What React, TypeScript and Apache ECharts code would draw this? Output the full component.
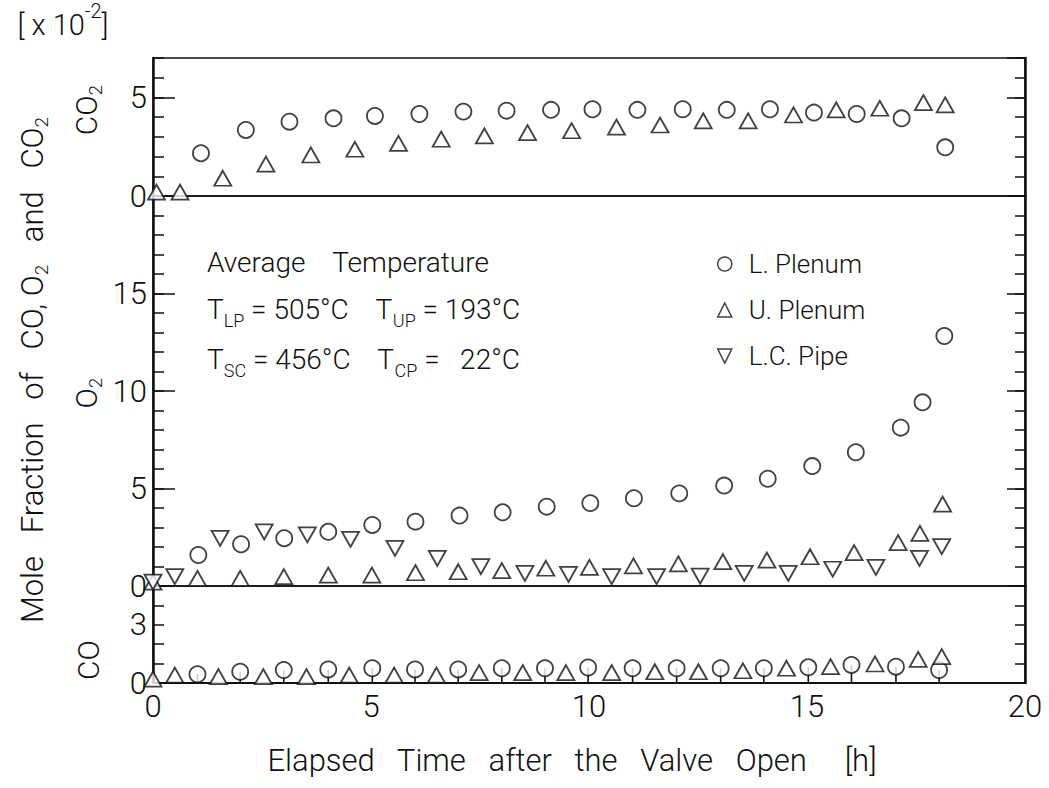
import React, { useEffect, useRef } from "react";
import * as echarts from "echarts";

// ---------- data ----------
const xTicks = [0, 5, 10, 15, 20];

// CO2 panel  [x10^-2]
const co2LpX = [1.1, 2.13, 3.13, 4.14, 5.09, 6.11, 7.12, 8.11, 9.13, 10.08, 11.11, 12.15, 13.16, 14.15, 15.16, 16.14, 17.17, 18.17];
const co2LpY = [2.17, 3.35, 3.77, 3.94, 4.06, 4.16, 4.28, 4.33, 4.37, 4.4, 4.37, 4.4, 4.37, 4.4, 4.23, 4.16, 3.94, 2.47];
const co2UpX = [0.08, 0.62, 1.6, 2.59, 3.62, 4.63, 5.63, 6.61, 7.6, 8.59, 9.6, 10.63, 11.63, 12.62, 13.65, 14.69, 15.67, 16.67, 17.67, 18.17];
const co2UpY = [0.2, 0.2, 0.9, 1.62, 2.08, 2.37, 2.67, 2.88, 3.05, 3.21, 3.31, 3.49, 3.6, 3.81, 3.81, 4.11, 4.37, 4.45, 4.74, 4.62];

// O2 panel
const o2LpX = [1.04, 2.02, 3.01, 4.02, 5.03, 6.02, 7.03, 8.02, 9.03, 10.03, 11.03, 12.07, 13.1, 14.1, 15.12, 16.12, 17.15, 17.65, 18.15];
const o2LpY = [1.59, 2.14, 2.45, 2.78, 3.13, 3.3, 3.61, 3.78, 4.07, 4.25, 4.5, 4.75, 5.15, 5.5, 6.15, 6.86, 8.12, 9.42, 12.82];
const o2UpX = [0, 1.02, 2.0, 3.0, 4.02, 5.02, 6.02, 7.0, 8.0, 9.01, 10.01, 11.02, 12.05, 13.07, 14.08, 15.07, 16.08, 17.09, 17.59, 18.11];
const o2UpY = [0.2, 0.39, 0.39, 0.48, 0.56, 0.56, 0.68, 0.73, 0.79, 0.91, 0.96, 1.03, 1.13, 1.25, 1.33, 1.5, 1.71, 2.22, 2.7, 4.2];
const o2LcX = [0, 0.5, 1.54, 2.55, 3.54, 4.53, 5.55, 6.52, 7.52, 8.53, 9.53, 10.52, 11.55, 12.55, 13.56, 14.57, 15.59, 16.58, 17.58, 18.09];
const o2LcY = [0.2, 0.48, 2.44, 2.78, 2.62, 2.39, 1.93, 1.42, 0.99, 0.65, 0.6, 0.48, 0.48, 0.51, 0.65, 0.65, 0.86, 0.96, 1.42, 2.02];

// CO panel
const coLpX = [1.02, 2.0, 3.0, 4.02, 5.03, 6.01, 7.0, 8.0, 8.99, 9.98, 11.0, 12.01, 13.02, 14.01, 15.03, 16.02, 17.04, 18.03];
const coLpY = [0.45, 0.58, 0.67, 0.7, 0.76, 0.7, 0.7, 0.76, 0.76, 0.8, 0.76, 0.76, 0.76, 0.76, 0.81, 0.93, 0.84, 0.67];
const coUpX = [0, 0.5, 1.5, 2.53, 3.52, 4.5, 5.53, 6.5, 7.48, 8.48, 9.47, 10.52, 11.51, 12.51, 13.53, 14.53, 15.54, 16.56, 17.55, 18.09];
const coUpY = [0.2, 0.41, 0.33, 0.33, 0.33, 0.41, 0.41, 0.41, 0.53, 0.53, 0.53, 0.53, 0.58, 0.58, 0.63, 0.76, 0.84, 0.98, 1.22, 1.36];

// panel axis ranges
const panels = [
  { name: "CO2", min: 0, max: 7, major: 5, longTick: true },
  { name: "O2", min: 0, max: 20, major: 5, longTick: true },
  { name: "CO", min: 0, max: 5, major: 3, longTick: false },
];

const seriesNames = ["L. Plenum", "U. Plenum", "L.C. Pipe"];

// ---------- styles ----------
const FONT = "Roboto";
const FW = 300;
const DOWN_TRI = "path://M0,0L10,0L5,10Z";
const INK = "#111";

const zip = (xs: number[], ys: number[]) => xs.map((x, i) => [x, ys[i]]);

const markerStyle = { color: "#fff", borderColor: INK, borderWidth: 1.8 };

export default function App() {
  const ref = useRef<HTMLDivElement>(null);

  useEffect(() => {
    if (!ref.current) return;
    const chart = echarts.init(ref.current, null, { renderer: "svg" });

    const gridTops = [58, 196, 586];
    const gridHeights = [138, 390, 97];

    const grid = gridTops.map((t, i) => ({
      left: 153,
      right: 24,
      top: t,
      height: gridHeights[i],
      show: true,
      borderColor: INK,
      borderWidth: 1.5,
      backgroundColor: "transparent",
    }));

    const xAxis = gridTops.map((_, i) => ({
      gridIndex: i,
      type: "value",
      min: xTicks[0],
      max: xTicks[xTicks.length - 1],
      interval: xTicks[1] - xTicks[0],
      show: i === 2,
      axisLine: { show: true, lineStyle: { color: INK, width: 2 } },
      axisTick: { show: false },
      splitLine: { show: false },
      axisLabel: {
        show: i === 2,
        fontFamily: FONT,
        fontWeight: FW,
        fontSize: 31,
        color: INK,
        margin: 8,
      },
    }));

    const yAxis: any[] = [];
    panels.forEach((p, i) => {
      yAxis.push({
        gridIndex: i,
        type: "value",
        min: p.min,
        max: p.max,
        interval: 1,
        position: "left",
        axisLine: { show: true, lineStyle: { color: INK, width: 2.5 } },
        axisTick: { show: true, inside: true, length: 11, lineStyle: { color: INK, width: 1.5 } },
        axisLabel: { show: false },
        splitLine: { show: false },
      });
      yAxis.push({
        gridIndex: i,
        type: "value",
        min: p.min,
        max: p.max,
        interval: p.major,
        position: "left",
        axisLine: { show: false },
        axisTick: { show: p.longTick, inside: true, length: 22, lineStyle: { color: INK, width: 1.5 } },
        axisLabel: {
          show: true,
          showMaxLabel: false,
          fontFamily: FONT,
          fontWeight: FW,
          fontSize: 31,
          color: INK,
          margin: 6,
        },
        splitLine: { show: false },
      });
      yAxis.push({
        gridIndex: i,
        type: "value",
        min: p.min,
        max: p.max,
        interval: 1,
        position: "right",
        axisLine: { show: true, lineStyle: { color: INK, width: 2.5 } },
        axisTick: { show: true, inside: true, length: 10, lineStyle: { color: INK, width: 1.5 } },
        axisLabel: { show: false },
        splitLine: { show: false },
      });
      yAxis.push({
        gridIndex: i,
        type: "value",
        min: p.min,
        max: p.max,
        interval: p.major,
        position: "right",
        axisLine: { show: false },
        axisTick: { show: p.longTick, inside: true, length: 18, lineStyle: { color: INK, width: 1.5 } },
        axisLabel: { show: false },
        splitLine: { show: false },
      });
    });

    const yIdx = (panel: number) => panel * 4;

    const scatter = (name: string, panel: number, data: number[][], symbol: string, size: any) => ({
      name,
      type: "scatter",
      xAxisIndex: panel,
      yAxisIndex: yIdx(panel),
      data,
      symbol,
      symbolSize: size,
      itemStyle: markerStyle,
      z: 5,
    });

    const stems = {
      name: "stems",
      type: "custom",
      xAxisIndex: 2,
      yAxisIndex: yIdx(2),
      data: zip(coLpX, coLpY),
      z: 4,
      renderItem: (_params: any, api: any) => {
        const p0 = api.coord([api.value(0), 0]);
        const p1 = api.coord([api.value(0), api.value(1)]);
        return {
          type: "line",
          shape: { x1: p0[0], y1: p0[1], x2: p1[0], y2: p1[1] },
          style: { stroke: INK, lineWidth: 1.6 },
        };
      },
    };

    const series: any[] = [
      scatter(seriesNames[0], 0, zip(co2LpX, co2LpY), "circle", 16),
      scatter(seriesNames[1], 0, zip(co2UpX, co2UpY), "triangle", [17, 15]),
      scatter(seriesNames[0], 1, zip(o2LpX, o2LpY), "circle", 16),
      scatter(seriesNames[1], 1, zip(o2UpX, o2UpY), "triangle", [17, 15]),
      scatter(seriesNames[2], 1, zip(o2LcX, o2LcY), DOWN_TRI, [17, 15]),
      stems,
      scatter(seriesNames[0], 2, zip(coLpX, coLpY), "circle", 16),
      scatter(seriesNames[1], 2, zip(coUpX, coUpY), "triangle", [17, 15]),
    ];

    const txt = { fontFamily: FONT, fontWeight: FW, fill: INK };
    const subRich = (main: number, sub: number, pad: number) => ({
      a: { fontFamily: FONT, fontWeight: FW, fontSize: main, color: INK, verticalAlign: "top" },
      s: { fontFamily: FONT, fontWeight: FW, fontSize: sub, color: INK, verticalAlign: "top", padding: [pad, 0, 0, 0] },
      p: { fontFamily: FONT, fontWeight: FW, fontSize: sub, color: INK, verticalAlign: "top", padding: [0, 0, 0, 0] },
      m: { fontFamily: FONT, fontWeight: FW, fontSize: main, color: INK, verticalAlign: "top", padding: [9, 0, 0, 0] },
    });

    const graphic: any[] = [
      {
        type: "text",
        x: 63,
        y: 20,
        style: {
          ...txt,
          text: "{m|[ x 10}{p|-2}{m|]}",
          rich: subRich(29, 20, 0),
          align: "center",
          verticalAlign: "middle",
        },
      },
      {
        type: "text",
        x: 34,
        y: 370,
        rotation: Math.PI / 2,
        style: {
          ...txt,
          text: "{a|Mole   Fraction   of   CO, O}{s|2}{a|   and   CO}{s|2}",
          rich: subRich(31, 19, 15),
          align: "center",
          verticalAlign: "middle",
        },
      },
      {
        type: "text",
        x: 88,
        y: 110,
        rotation: Math.PI / 2,
        style: {
          ...txt,
          text: "{a|CO}{s|2}",
          rich: subRich(30, 19, 15),
          align: "center",
          verticalAlign: "middle",
        },
      },
      {
        type: "text",
        x: 88,
        y: 393,
        rotation: Math.PI / 2,
        style: {
          ...txt,
          text: "{a|O}{s|2}",
          rich: subRich(30, 19, 15),
          align: "center",
          verticalAlign: "middle",
        },
      },
      {
        type: "text",
        x: 88,
        y: 660,
        rotation: Math.PI / 2,
        style: {
          ...txt,
          text: "{a|CO}",
          rich: subRich(30, 19, 15),
          align: "center",
          verticalAlign: "middle",
        },
      },
      {
        type: "text",
        x: 572,
        y: 760,
        style: {
          ...txt,
          text: "Elapsed   Time   after   the   Valve   Open     [h]",
          fontSize: 31,
          align: "center",
          verticalAlign: "middle",
        },
      },
      {
        type: "text",
        x: 207,
        y: 262,
        style: {
          ...txt,
          text: "Average    Temperature",
          fontSize: 28,
          align: "left",
          verticalAlign: "middle",
        },
      },
      {
        type: "text",
        x: 207,
        y: 312,
        style: {
          ...txt,
          text: "{a|T}{s|LP}{a| = 505°C    T}{s|UP}{a| = 193°C}",
          rich: subRich(28, 18, 16),
          align: "left",
          verticalAlign: "middle",
        },
      },
      {
        type: "text",
        x: 207,
        y: 362,
        style: {
          ...txt,
          text: "{a|T}{s|SC}{a| = 456°C    T}{s|CP}{a| =   22°C}",
          rich: subRich(28, 18, 16),
          align: "left",
          verticalAlign: "middle",
        },
      },
    ];

    chart.setOption({
      animation: false,
      backgroundColor: "#fff",
      grid,
      xAxis,
      yAxis,
      series,
      graphic,
      legend: {
        show: true,
        orient: "vertical",
        left: 712,
        top: 246,
        itemWidth: 14,
        itemHeight: 14,
        itemGap: 20,
        selectedMode: false,
        data: [
          { name: seriesNames[0], icon: "circle" },
          { name: seriesNames[1], icon: "triangle" },
          { name: seriesNames[2], icon: DOWN_TRI },
        ],
        itemStyle: { color: "#fff", borderColor: INK, borderWidth: 1.5 },
        textStyle: {
          fontFamily: FONT,
          fontWeight: FW,
          fontSize: 26,
          color: INK,
          padding: [0, 0, 0, 12],
        },
      },
    });

    return () => chart.dispose();
  }, []);

  return (
    <div
      ref={ref}
      style={{ position: "absolute", left: 0, top: 0, width: 1049, height: 788 }}
    />
  );
}
